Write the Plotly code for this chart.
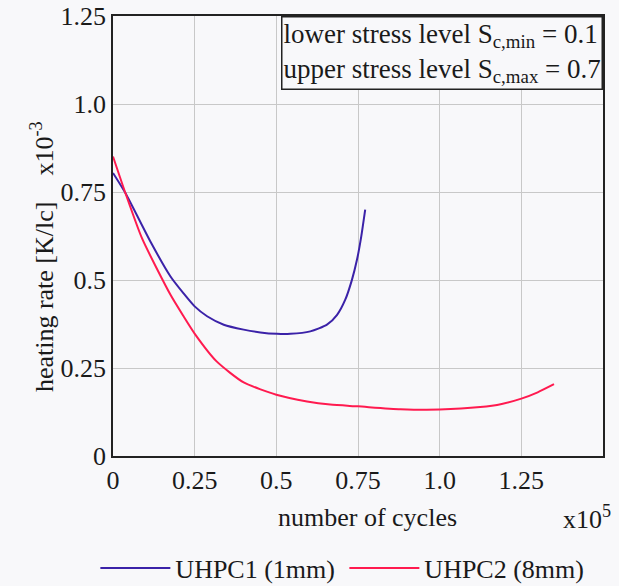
import plotly.graph_objects as go

# cycles in units of 1e5, heating rate in units of 1e-3 K/lc
x_uhpc1 = [0.0, 0.038, 0.114, 0.176, 0.216, 0.25, 0.288, 0.339, 0.40, 0.451, 0.502, 0.543, 0.604,
           0.655, 0.686, 0.711, 0.731, 0.747, 0.760, 0.772]
y_uhpc1 = [0.804, 0.747, 0.610, 0.510, 0.462, 0.425, 0.397, 0.373, 0.359, 0.351, 0.347, 0.347, 0.354,
           0.373, 0.401, 0.444, 0.499, 0.558, 0.624, 0.700]

x_uhpc2 = [0.0, 0.038, 0.089, 0.176, 0.216, 0.252, 0.318, 0.40, 0.50, 0.594, 0.665, 0.75,
           0.88, 1.0, 1.124, 1.19, 1.25, 1.30, 1.35]
y_uhpc2 = [0.851, 0.747, 0.618, 0.458, 0.397, 0.345, 0.268, 0.209, 0.174, 0.155, 0.146, 0.141,
           0.133, 0.132, 0.139, 0.148, 0.163, 0.181, 0.204]

x_ticks = [0, 0.25, 0.5, 0.75, 1.0, 1.25, 1.5]
x_ticktext = ["0", "0.25", "0.5", "0.75", "1.0", "1.25", "1.5"]
y_ticks = [0, 0.25, 0.5, 0.75, 1.0, 1.25]
y_ticktext = ["0", "0.25", "0.5", "0.75", "1.0", "1.25"]

series_names = ["UHPC1 (1mm)", "UHPC2 (8mm)"]
series_colors = ["#3b22a8", "#ff1a4f"]

FONT = "Liberation Serif, Times New Roman, serif"
BG = "#f8f8fa"
TXT = "#1a1a1a"
FS = 26

fig = go.Figure()
fig.add_trace(go.Scatter(x=x_uhpc1, y=y_uhpc1, mode="lines", name=series_names[0],
                         line=dict(color=series_colors[0], width=2, shape="spline", smoothing=0.6)))
fig.add_trace(go.Scatter(x=x_uhpc2, y=y_uhpc2, mode="lines", name=series_names[1],
                         line=dict(color=series_colors[1], width=2, shape="spline", smoothing=0.6)))

fig.update_layout(
    width=619, height=586,
    margin=dict(l=113, r=16, t=16, b=130, autoexpand=False),
    paper_bgcolor=BG, plot_bgcolor=BG,
    font=dict(family=FONT, size=FS, color=TXT),
    showlegend=True,
    legend=dict(orientation="h", x=-0.036, xanchor="left", y=-0.255, yanchor="middle",
                entrywidth=164, entrywidthmode="pixels", itemwidth=70,
                font=dict(family=FONT, size=FS, color=TXT), bgcolor="rgba(0,0,0,0)"),
    xaxis=dict(range=[0, 1.5], tickvals=x_ticks, ticktext=x_ticktext,
               showgrid=True, gridcolor="#c8c8c8", gridwidth=1,
               showline=True, linecolor="#222", linewidth=1.5, mirror=True,
               ticks="", zeroline=False, fixedrange=True),
    yaxis=dict(range=[0, 1.25], tickvals=y_ticks, ticktext=y_ticktext,
               showgrid=True, gridcolor="#c8c8c8", gridwidth=1,
               showline=True, linecolor="#222", linewidth=1.5, mirror=True,
               ticks="", zeroline=False, fixedrange=True),
)

fig.add_annotation(text="heating rate [K/lc]&nbsp;&nbsp;&nbsp;&nbsp;x10<sup>-3</sup>", textangle=-90,
                   xref="paper", yref="paper", x=-0.144, y=0.453,
                   xanchor="center", yanchor="middle", showarrow=False,
                   font=dict(family=FONT, size=FS, color=TXT))
fig.add_annotation(text="number of cycles", xref="paper", yref="paper",
                   x=0.52, y=-0.14, xanchor="center", yanchor="middle", showarrow=False,
                   font=dict(family=FONT, size=FS, color=TXT))
fig.add_annotation(text="x10<sup>5</sup>", xref="paper", yref="paper",
                   x=1.02, y=-0.14, xanchor="right", yanchor="middle", showarrow=False,
                   font=dict(family=FONT, size=FS, color=TXT))
fig.add_annotation(text="lower stress level S<sub>c,min</sub> = 0.1<br>upper stress level S<sub>c,max</sub> = 0.7",
                   xref="paper", yref="paper", x=1.0, y=1.0, xanchor="right", yanchor="top",
                   align="left", showarrow=False, bordercolor="#222", borderwidth=1.5,
                   borderpad=1, bgcolor=BG,
                   font=dict(family=FONT, size=27, color=TXT))

fig.write_html("out.html")
